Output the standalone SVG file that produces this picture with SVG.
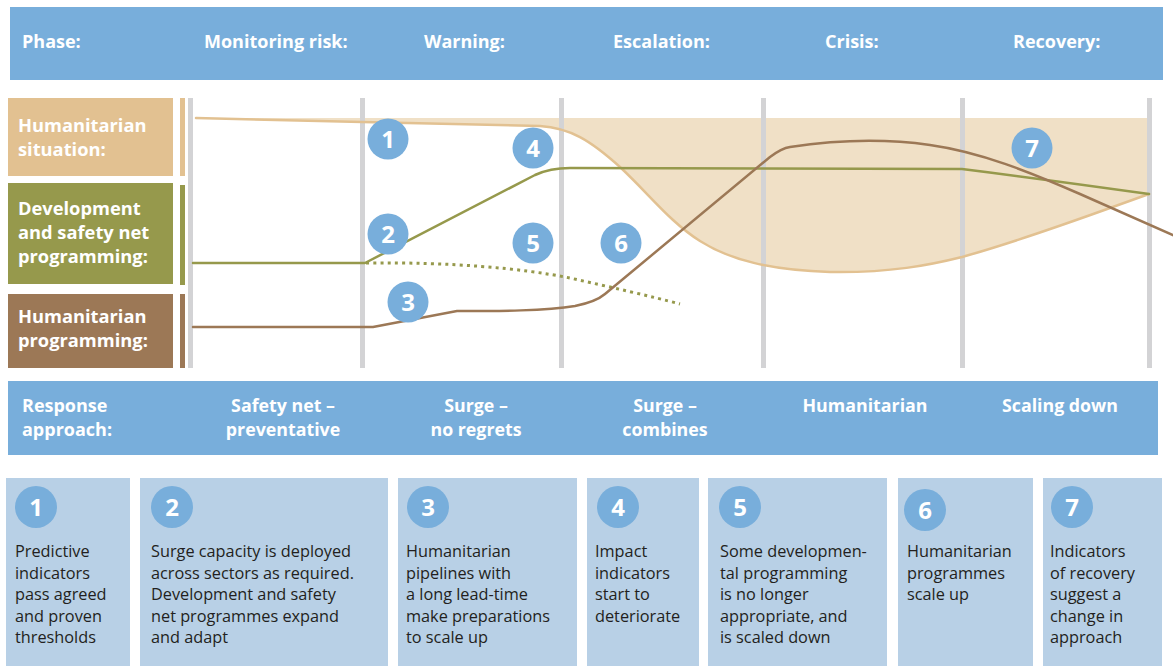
<svg xmlns="http://www.w3.org/2000/svg" width="1173" height="666" viewBox="0 0 1173 666">
<style>
.hd{font-family:"Open Sans","Liberation Sans",sans-serif;font-weight:700;font-size:18px;fill:#ffffff}
.lb{font-family:"Open Sans","Liberation Sans",sans-serif;font-weight:700;font-size:18.3px;fill:#ffffff}
.rs{font-family:"Open Sans","Liberation Sans",sans-serif;font-weight:700;font-size:17.8px;fill:#ffffff;text-anchor:middle}
.bd{font-family:"Open Sans","Liberation Sans",sans-serif;font-size:16.3px;fill:#231f20}
.num{font-family:"Open Sans","Liberation Sans",sans-serif;font-weight:700;font-size:24px;fill:#ffffff;text-anchor:middle}
.bar{fill:#78aedb}
.box{fill:#b8d0e6}
.dot{fill:#78aedb}
.grid{fill:#d3d3d5}
.line{fill:none;stroke-width:2.5;stroke-linejoin:round;stroke-linecap:round}
.dotted{fill:none;stroke:#96994c;stroke-width:3;stroke-dasharray:3 4.2;stroke-linecap:butt}
</style>

<g id="phase-header">
<rect class="bar" x="10" y="7" width="1153" height="73"/>
<text class="hd" x="22" y="48">Phase:</text>
<text class="hd" x="204" y="48">Monitoring risk:</text>
<text class="hd" x="424" y="48">Warning:</text>
<text class="hd" x="613" y="48">Escalation:</text>
<text class="hd" x="825" y="48">Crisis:</text>
<text class="hd" x="1013" y="48">Recovery:</text>
</g>

<g id="label-humanitarian-situation">
<rect x="8" y="98" width="165" height="78" fill="#e2c191"/>
<rect x="180" y="98" width="5" height="78" fill="#e2c191"/>
<text class="lb" x="18" y="132">Humanitarian</text>
<text class="lb" x="18" y="156">situation:</text>
</g>
<g id="label-development">
<rect x="8" y="183" width="165" height="101" fill="#96994c"/>
<rect x="180" y="185" width="5" height="100" fill="#96994c"/>
<text class="lb" x="18" y="215">Development</text>
<text class="lb" x="18" y="239">and safety net</text>
<text class="lb" x="18" y="263">programming:</text>
</g>
<g id="label-humanitarian-programming">
<rect x="8" y="294" width="165" height="74" fill="#9c7856"/>
<rect x="180" y="294" width="5" height="74" fill="#9c7856"/>
<text class="lb" x="18" y="323">Humanitarian</text>
<text class="lb" x="18" y="347">programming:</text>
</g>

<g id="chart-fill">
<path d="M196,118 L362,122 L540,126 C570,128 590,140 620,167 C650,195 670,222 700,241 C730,260 770,270 830,272 C890,273 930,265 962,257 C1030,238 1090,215 1149,194 L1149,118 Z" fill="#f0e0c6"/>
</g>

<g id="grid">
<rect class="grid" x="188" y="98" width="5" height="270"/>
<rect class="grid" x="360" y="98" width="5" height="270"/>
<rect class="grid" x="559" y="98" width="5" height="270"/>
<rect class="grid" x="761" y="98" width="5" height="270"/>
<rect class="grid" x="960" y="98" width="5" height="270"/>
<rect class="grid" x="1147" y="98" width="5" height="270"/>
</g>

<g id="connectors">
<path class="line" stroke="#e2c191" d="M196,118 L362,122 L540,126 C570,128 590,140 620,167 C650,195 670,222 700,241 C730,260 770,270 830,272 C890,273 930,265 962,257 C1030,238 1090,215 1149,194"/>
<path class="line" stroke="#96994c" d="M193,263 L365,263 L535,175 Q550,168 570,168 L962,169 Q1050,180 1149,194"/>
<path class="dotted" d="M366,263 C450,262 520,268 570,278 C610,287 650,296 680,304"/>
<path class="line" stroke="#9c7856" d="M193,327 L373,327 L457,311 C500,311 545,311 575,306 C590,303 598,300 605,294 L770,157 C778,151 783,148 790,147 C830,141 880,138 930,145 C980,152 1030,172 1080,194 L1175,236"/>
</g>

<g id="markers">
<g id="m1"><circle class="dot" cx="388" cy="139" r="20.5"/><text class="num" x="388" y="147.5">1</text></g>
<g id="m2"><circle class="dot" cx="388" cy="234" r="20.5"/><text class="num" x="388" y="242.5">2</text></g>
<g id="m3"><circle class="dot" cx="408" cy="302" r="20.5"/><text class="num" x="408" y="310.5">3</text></g>
<g id="m4"><circle class="dot" cx="533" cy="148" r="20.5"/><text class="num" x="533" y="156.5">4</text></g>
<g id="m5"><circle class="dot" cx="533" cy="243" r="20.5"/><text class="num" x="533" y="251.5">5</text></g>
<g id="m6"><circle class="dot" cx="621" cy="243" r="20.5"/><text class="num" x="621" y="251.5">6</text></g>
<g id="m7"><circle class="dot" cx="1032" cy="148" r="20.5"/><text class="num" x="1032" y="156.5">7</text></g>
</g>

<g id="response-bar">
<rect class="bar" x="8" y="381" width="1150" height="74"/>
<text class="hd" x="22" y="412">Response</text>
<text class="hd" x="22" y="436">approach:</text>
<text class="rs" x="283" y="412">Safety net –</text>
<text class="rs" x="283" y="436">preventative</text>
<text class="rs" x="476" y="412">Surge –</text>
<text class="rs" x="476" y="436">no regrets</text>
<text class="rs" x="665" y="412">Surge –</text>
<text class="rs" x="665" y="436">combines</text>
<text class="rs" x="865" y="412">Humanitarian</text>
<text class="rs" x="1060" y="412">Scaling down</text>
</g>

<g id="box1">
<rect class="box" x="6" y="478" width="124" height="188"/>
<circle class="dot" cx="36" cy="507" r="21"/><text class="num" x="36" y="515.5">1</text>
<text class="bd" x="15" y="557">Predictive</text>
<text class="bd" x="15" y="579">indicators</text>
<text class="bd" x="15" y="600">pass agreed</text>
<text class="bd" x="15" y="622">and proven</text>
<text class="bd" x="15" y="643">thresholds</text>
</g>
<g id="box2">
<rect class="box" x="140" y="478" width="248" height="188"/>
<circle class="dot" cx="172" cy="507" r="21"/><text class="num" x="172" y="515.5">2</text>
<text class="bd" x="151" y="557">Surge capacity is deployed</text>
<text class="bd" x="151" y="579">across sectors as required.</text>
<text class="bd" x="151" y="600">Development and safety</text>
<text class="bd" x="151" y="622">net programmes expand</text>
<text class="bd" x="151" y="643">and adapt</text>
</g>
<g id="box3">
<rect class="box" x="398" y="478" width="179" height="188"/>
<circle class="dot" cx="428" cy="507" r="21"/><text class="num" x="428" y="515.5">3</text>
<text class="bd" x="406" y="557">Humanitarian</text>
<text class="bd" x="406" y="579">pipelines with</text>
<text class="bd" x="406" y="600">a long lead-time</text>
<text class="bd" x="406" y="622">make preparations</text>
<text class="bd" x="406" y="643">to scale up</text>
</g>
<g id="box4">
<rect class="box" x="587" y="478" width="112" height="188"/>
<circle class="dot" cx="618" cy="507" r="21"/><text class="num" x="618" y="515.5">4</text>
<text class="bd" x="595" y="557">Impact</text>
<text class="bd" x="595" y="579">indicators</text>
<text class="bd" x="595" y="600">start to</text>
<text class="bd" x="595" y="622">deteriorate</text>
</g>
<g id="box5">
<rect class="box" x="708" y="478" width="179" height="188"/>
<circle class="dot" cx="740" cy="507" r="21"/><text class="num" x="740" y="515.5">5</text>
<text class="bd" x="720" y="557">Some developmen-</text>
<text class="bd" x="720" y="579">tal programming</text>
<text class="bd" x="720" y="600">is no longer</text>
<text class="bd" x="720" y="622">appropriate, and</text>
<text class="bd" x="720" y="643">is scaled down</text>
</g>
<g id="box6">
<rect class="box" x="898" y="478" width="135" height="188"/>
<circle class="dot" cx="925" cy="510" r="21"/><text class="num" x="925" y="518.5">6</text>
<text class="bd" x="907" y="557">Humanitarian</text>
<text class="bd" x="907" y="579">programmes</text>
<text class="bd" x="907" y="600">scale up</text>
</g>
<g id="box7">
<rect class="box" x="1043" y="478" width="119" height="188"/>
<circle class="dot" cx="1072" cy="507" r="21"/><text class="num" x="1072" y="515.5">7</text>
<text class="bd" x="1050" y="557">Indicators</text>
<text class="bd" x="1050" y="579">of recovery</text>
<text class="bd" x="1050" y="600">suggest a</text>
<text class="bd" x="1050" y="622">change in</text>
<text class="bd" x="1050" y="643">approach</text>
</g>
</svg>
